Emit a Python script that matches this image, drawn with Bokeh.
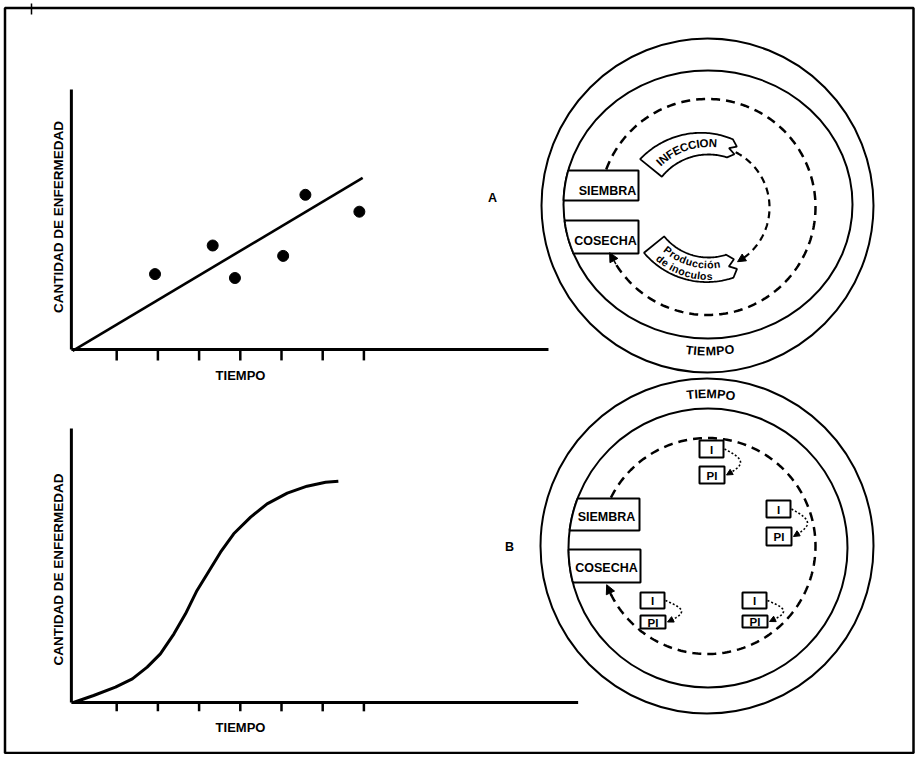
import numpy as np
from bokeh.plotting import figure
from bokeh.models import Range1d, Arrow, NormalHead
from bokeh.embed import file_html
from bokeh.resources import INLINE
from bokeh.core.properties import value

FONT = "Liberation Sans"

# ---------------- data ----------------
x_label = "TIEMPO"
y_label = "CANTIDAD DE ENFERMEDAD"
panel_labels = ["A", "B"]
time_ticks = [1, 2, 3, 4, 5, 6, 7]

# Chart A: observed disease vs time and fitted straight line
time_a = [1.93, 3.33, 3.87, 5.04, 5.58, 6.89]
disease_a = [2.9, 4.0, 2.75, 3.6, 5.95, 5.3]
trend_time_a = [-0.07, 6.97]
trend_disease_a = [-0.05, 6.6]

# Chart B: sigmoid disease progress curve
time_b = [-0.05, 0.44, 0.97, 1.38, 1.74, 2.06, 2.39, 2.67, 2.95, 3.20, 3.52,
          3.84, 4.25, 4.65, 5.14, 5.62, 6.07, 6.38]
disease_b = [0.0, 0.27, 0.59, 0.91, 1.36, 1.87, 2.64, 3.41, 4.31, 4.95, 5.78,
             6.49, 7.13, 7.64, 8.05, 8.32, 8.47, 8.51]

stage_labels = ["SIEMBRA", "COSECHA"]
cycle_labels_a = ["INFECCION", "Producción", "de inoculos"]
box_labels_b = ["I", "PI"]
ring_label = "TIEMPO"

# ---------------- layout (page pixels) ----------------
W, H = 916, 754
X0, X1 = 0, W
Y0, Y1 = 0, H
T_ORIGIN_PX, T_UNIT_PX = 75.0, 41.2
D_UNIT_PX = 26.0
A_BASE_PX, B_BASE_PX = 349.0, 702.0

p = figure(width=W, height=H, x_range=Range1d(X0, X1), y_range=Range1d(Y1, Y0),
           x_axis_type=None, y_axis_type=None, output_backend="svg",
           toolbar_location=None, min_border=0)
p.title.visible = False
p.outline_line_color = None
p.background_fill_color = "white"
p.border_fill_color = "white"

p.extra_x_ranges = {"time": Range1d((X0 - T_ORIGIN_PX) / T_UNIT_PX, (X1 - T_ORIGIN_PX) / T_UNIT_PX)}
p.extra_y_ranges = {
    "dis_a": Range1d((A_BASE_PX - Y1) / D_UNIT_PX, (A_BASE_PX - Y0) / D_UNIT_PX),
    "dis_b": Range1d((B_BASE_PX - Y1) / D_UNIT_PX, (B_BASE_PX - Y0) / D_UNIT_PX),
}

# outer frame
p.quad(left=4.5, right=913, top=7.5, bottom=752.5, fill_color=None,
       line_color="black", line_width=2.5)
p.segment(x0=31, y0=3, x1=31, y1=14, line_color="black", line_width=1.5)

CW = {'A': .722, 'B': .722, 'C': .722, 'D': .722, 'E': .667, 'F': .611, 'H': .722,
      'I': .278, 'M': .833, 'N': .722, 'O': .778, 'P': .667, 'R': .722, 'S': .667,
      'T': .611, 'a': .556, 'c': .556, 'd': .611, 'e': .556, 'i': .278, 'l': .278,
      'n': .611, 'o': .611, 'r': .389, 's': .556, 'u': .611, 'ó': .611, ' ': .278}


def txt(x, y, s, size, angle=0.0, align="center"):
    p.text(x=[x], y=[y], text=[s], angle=angle, text_align=align,
           text_baseline="middle", text_font=value(FONT), text_font_style="bold",
           text_font_size=f"{size}px", text_color="black")


def arc_text(s, cx, cy, r, th_c, size, top=True):
    ws = [CW.get(c, .6) * size * 1.02 for c in s]
    total = sum(ws)
    pos = -total / 2
    xs, ys, angs, chars = [], [], [], []
    sign = 1 if top else -1
    for c, w in zip(s, ws):
        mid = pos + w / 2
        pos += w
        if c == " ":
            continue
        th = np.radians(th_c) + sign * mid / r
        xs.append(cx + r * np.cos(th))
        ys.append(cy + r * np.sin(th))
        if top:
            angs.append(np.arctan2(-np.cos(th), -np.sin(th)))
        else:
            angs.append(np.arctan2(np.cos(th), np.sin(th)))
        chars.append(c)
    p.text(x=xs, y=ys, text=chars, angle=angs, text_align="center",
           text_baseline="middle", text_font=value(FONT), text_font_style="bold",
           text_font_size=f"{size}px", text_color="black")


# ---------------- chart A ----------------
AX_T0 = -0.1
p.line([AX_T0, AX_T0], [0, 10.0], x_range_name="time", y_range_name="dis_a",
       line_color="black", line_width=3)
p.line([AX_T0, 11.48], [0, 0], x_range_name="time", y_range_name="dis_a",
       line_color="black", line_width=3)
p.segment(x0=time_ticks, y0=0, x1=time_ticks, y1=-0.42, x_range_name="time",
          y_range_name="dis_a", line_color="black", line_width=2.5)
p.line(trend_time_a, trend_disease_a, x_range_name="time", y_range_name="dis_a",
       line_color="black", line_width=2.6)
p.scatter(time_a, disease_a, x_range_name="time", y_range_name="dis_a",
          size=11, color="black")
txt(58, 216.5, y_label, 13.5, angle=np.pi / 2)
txt(240, 375, x_label, 13)

# ---------------- chart B ----------------
p.line([AX_T0, AX_T0], [0, 10.54], x_range_name="time", y_range_name="dis_b",
       line_color="black", line_width=3)
p.line([AX_T0, 12.2], [0, 0], x_range_name="time", y_range_name="dis_b",
       line_color="black", line_width=3)
p.segment(x0=time_ticks, y0=0, x1=time_ticks, y1=-0.34, x_range_name="time",
          y_range_name="dis_b", line_color="black", line_width=2.5)
p.line(time_b, disease_b, x_range_name="time", y_range_name="dis_b",
       line_color="black", line_width=3, line_join="round")
txt(58, 569, y_label, 13.5, angle=np.pi / 2)
txt(240, 727, x_label, 13)

txt(492, 197, panel_labels[0], 12.5)
txt(509, 546, panel_labels[1], 12.5)


# ---------------- diagram helpers ----------------
def ring(cx, cy, w, h, lw=2.0):
    p.ellipse(x=[cx], y=[cy], width=[w], height=[h], fill_color=None,
              line_color="black", line_width=lw)


def arc_pts(cx, cy, r, a0, a1, n=240):
    th = np.radians(np.linspace(a0, a1, n))
    r = np.broadcast_to(r, th.shape)
    return cx + r * np.cos(th), cy + r * np.sin(th)


def arrow_head(x0, y0, x1, y1, size=9):
    p.add_layout(Arrow(end=NormalHead(size=size, fill_color="black", line_color="black",
                                      line_width=1),
                       x_start=x0, y_start=y0, x_end=x1, y_end=y1,
                       line_color="black", line_width=1.5))


def dashed_cycle(cx, cy, r, a0, a1, dash, lw, head=9):
    xs, ys = arc_pts(cx, cy, r, a0, a1)
    p.line(xs, ys, line_color="black", line_width=lw, line_dash=dash)
    xh0, yh0 = arc_pts(cx, cy, r, a1 - 4, a1 - 4, 1)
    xh1, yh1 = arc_pts(cx, cy, r, a1 + 3, a1 + 3, 1)
    arrow_head(xh0[0], yh0[0], xh1[0], yh1[0], head)


def stage_box(cx, cy, rx, ry, top, bot, right):
    ys = np.linspace(top, bot, 30)
    xs = cx - rx * np.sqrt(np.clip(1 - ((ys - cy) / ry) ** 2, 0, 1))
    p.patch(list(xs) + [right, right], list(ys) + [bot, top], fill_color="white",
            line_color="black", line_width=2)


def banner(cx, cy, r_in, r_out_l, r_out_r, th_l, th_r):
    n = 60
    d = np.sign(th_r - th_l)
    r_out = np.linspace(r_out_l, r_out_r, n)
    xo, yo = arc_pts(cx, cy, r_out, th_l, th_r, n)
    xi, yi = arc_pts(cx, cy, r_in, th_r, th_l, n)
    t = np.radians(th_r)
    tx, ty = -np.sin(t) * d, np.cos(t) * d
    zx, zy = [], []
    for f, off in zip([0.3, 0.5, 0.72], [6, -1, 6]):
        rr = r_out_r + (r_in - r_out_r) * f
        zx.append(cx + rr * np.cos(t) + off * tx)
        zy.append(cy + rr * np.sin(t) + off * ty)
    p.patch(list(xo) + zx + list(xi), list(yo) + zy + list(yi), fill_color="white",
            line_color="black", line_width=1.8)


# ---------------- diagram A ----------------
ring(707, 205, 332, 334)
ring(707.5, 204, 289, 268)
dashed_cycle(707, 206.5, 108, 200.3, 512, "9 6", 2.5)
dashed_cycle(707, 207, 62, -63, 58, "7 5", 2.2, head=8)
stage_box(707.5, 204, 144.5, 134, 170, 200, 638)
stage_box(707.5, 204, 144.5, 134, 220, 253, 638)
txt(607, 190, stage_labels[0], 12.5)
txt(605, 240, stage_labels[1], 12.5)
banner(708, 214, 60, 88, 79, 219, 288)
banner(708, 200, 57, 83, 81, 141, 72)
arc_text(cycle_labels_a[0], 708, 214, 71.5, 251, 11.5, top=True)
arc_text(cycle_labels_a[1], 708, 200, 64, 106, 10.5, top=False)
arc_text(cycle_labels_a[2], 708, 200, 75.5, 109.5, 10.5, top=False)
arc_text(ring_label, 707, 205, 146, 89, 12.5, top=False)

# ---------------- diagram B ----------------
ring(706.5, 545.5, 333, 335)
ring(707.5, 547.5, 279, 279)
dashed_cycle(707, 545.5, 108, 206.6, 516, "9 6", 2.5)
stage_box(707.5, 547.5, 139.5, 139.5, 498, 530, 639)
stage_box(707.5, 547.5, 139.5, 139.5, 549, 582, 640)
txt(606, 516, stage_labels[0], 12.5)
txt(606, 567.5, stage_labels[1], 12.5)
arc_text(ring_label, 706.5, 545.5, 152, 271.5, 12.5, top=True)

# (x_left, I_top, I_bottom, PI_top, PI_bottom)
pairs = [(699, 440, 457, 466, 483), (766, 500, 517, 527, 545),
         (640, 592, 608, 615, 628), (742, 592, 608, 615, 627)]
BW = 24
for xl, it, ib, pt, pb in pairs:
    xr = xl + BW
    yi, yp = (it + ib) / 2, (pt + pb) / 2
    tt = np.linspace(0, 1, 40)
    cxs = xr + 1 + 15 * np.sin(np.pi * tt) + 2 * tt
    cys = yi + (yp - yi) * tt
    p.line(cxs[:-4], cys[:-4], line_color="black", line_width=1.6, line_dash="2 2")
    arrow_head(cxs[-6], cys[-6], cxs[-1], cys[-1], 6)
    p.quad(left=[xl, xl], right=[xr, xr + 1], top=[it, pt], bottom=[ib, pb],
           fill_color="white", line_color="black", line_width=2)
    txt(xl + BW / 2, yi + 0.5, box_labels_b[0], 11.5)
    txt(xl + BW / 2 + 0.5, yp + 0.5, box_labels_b[1], 11.5)

open("out.html", "w").write(file_html(p, INLINE))
